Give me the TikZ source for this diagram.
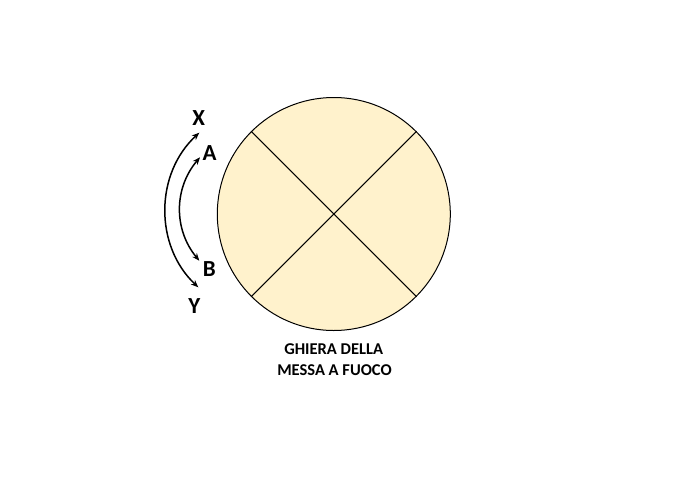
\documentclass[tikz,border=0pt]{standalone}
\usepackage{fontspec}
\setmainfont{Carlito}
\usetikzlibrary{arrows.meta}
\definecolor{ringfill}{HTML}{FFF2CC}
\begin{document}
\begin{tikzpicture}[x=1pt,y=-1pt,
  lbltxt/.style={font=\bfseries\fontsize{23}{25}\selectfont, inner sep=0pt},
  captxt/.style={font=\bfseries\fontsize{16.5}{18}\selectfont, inner sep=0pt},
  arcarrow/.style={line width=1.5pt, {Stealth[length=7.5pt,width=6pt]}-{Stealth[length=7.5pt,width=6pt]}}
]
\useasboundingbox (0,0) rectangle (690,487);
\node[circle, draw=black, line width=1pt, fill=ringfill, minimum size=233pt, inner sep=0pt] (ring) at (333.8,214) {};
\draw[line width=1pt] (ring.45) -- (ring.225);
\draw[line width=1pt] (ring.135) -- (ring.-45);
\node[lbltxt] (X) at (198.7,118.3) {X};
\node[lbltxt] (A) at (209.7,153) {A};
\node[lbltxt] (B) at (209.3,269.5) {B};
\node[lbltxt] (Y) at (194.3,305.8) {Y};
\coordinate (o1) at (199.3,132.7);
\coordinate (o2) at (198.3,287.3);
\coordinate (i1) at (200,157.3);
\coordinate (i2) at (199.3,260.7);
\draw[arcarrow] (o1) to[bend right=47] (o2);
\draw[arcarrow] (i1) to[bend right=40] (i2);
\node[captxt] (t1) at (333.7,348.7) {GHIERA DELLA};
\node[captxt] (t2) at (334.5,370.5) {MESSA A FUOCO};
\end{tikzpicture}
\end{document}
